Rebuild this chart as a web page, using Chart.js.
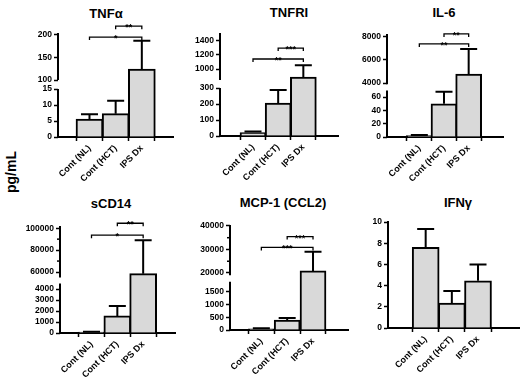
<!DOCTYPE html>
<html>
<head>
<meta charset="utf-8">
<script src="https://cdn.jsdelivr.net/npm/chart.js@4.4.0/dist/chart.umd.min.js"></script>
<style>
  html, body { margin: 0; padding: 0; background: #fff; overflow: hidden; }
  #wrap { position: relative; width: 520px; height: 378px; }
  canvas { position: absolute; }
  .t { position: absolute; font: bold 13px "Liberation Sans", Arial, sans-serif; transform: translate(-50%, -50%); white-space: nowrap; color: #000; }
  #unit { position: absolute; left: 11px; top: 172px; font: bold 14px "Liberation Sans", Arial, sans-serif; transform: translate(-50%, -50%) rotate(-90deg); }
</style>
</head>
<body>
<div id="wrap"><div id="unit">pg/mL</div></div>
<script>
const categories = ["Cont (NL)", "Cont (HCT)", "IPS Dx"];

// mean and SEM (upper error bar) per group, pg/mL
const tnfaMean = [5.6, 7.3, 124];
const tnfaSem = [1.5, 4.0, 63];
const tnfaTicks = [0, 5, 10, 15, 100, 150, 200];
const tnfaSig = [[0, 2, 195, "*"], [1, 2, 219, "**"]];

const tnfr1Mean = [22, 206, 890];
const tnfr1Sem = [6, 81, 165];
const tnfr1Ticks = [0, 100, 200, 300, 1000, 1200, 1400];
const tnfr1Sig = [[0, 2, 1140, "**"], [1, 2, 1292, "***"]];

const il6Mean = [2, 50, 4780];
const il6Sem = [1, 18, 2180];
const il6Ticks = [0, 20, 40, 60, 4000, 6000, 8000];
const il6Sig = [[0, 2, 7390, "**"], [1, 2, 8260, "**"]];

const scd14Mean = [80, 1550, 58500];
const scd14Sem = [40, 900, 30500];
const scd14Ticks = [0, 1000, 2000, 3000, 4000, 60000, 80000, 100000];
const scd14Minor = [70000, 90000];
const scd14Sig = [[0, 2, 93600, "*"], [1, 2, 104500, "**"]];

const mcp1Mean = [50, 390, 20900];
const mcp1Sem = [20, 80, 8100];
const mcp1Ticks = [0, 500, 1000, 1500, 20000, 30000, 40000];
const mcp1Minor = [25000, 35000];
const mcp1Sig = [[0, 2, 30850, "***"], [1, 2, 35500, "***"]];

const ifngMean = [7.6, 2.35, 4.45];
const ifngSem = [1.75, 1.15, 1.55];
const ifngTicks = [0, 2, 4, 6, 8, 10];

const panels = [
  { title: "TNFα", mean: tnfaMean, sem: tnfaSem, ticks: tnfaTicks, minor: [], sig: tnfaSig,
    left: 58, right: 173, top: 33, bottom: 137, xMin: -0.471, xMax: 2.459, bar: 27,
    max: 204, brk: { lo: 15, hi: 100, f0: 0.4615, f1: 0.548 }, tx: 106, ty: 13 },
  { title: "TNFRI", mean: tnfr1Mean, sem: tnfr1Sem, ticks: tnfr1Ticks, minor: [], sig: tnfr1Sig,
    left: 220, right: 338, top: 33, bottom: 136, xMin: -0.53, xMax: 2.596, bar: 26,
    max: 1500, brk: { lo: 300, hi: 850, f0: 0.466, f1: 0.544 }, tx: 289, ty: 12 },
  { title: "IL-6", mean: il6Mean, sem: il6Sem, ticks: il6Ticks, minor: [], sig: il6Sig,
    left: 387, right: 503, top: 34, bottom: 137, xMin: -0.527, xMax: 2.608, bar: 26,
    max: 8250, brk: { lo: 70, hi: 3900, f0: 0.452, f1: 0.513 }, tx: 444, ty: 12 },
  { title: "sCD14", mean: scd14Mean, sem: scd14Sem, ticks: scd14Ticks, minor: scd14Minor, sig: scd14Sig,
    left: 60, right: 175, top: 226, bottom: 333, xMin: -0.477, xMax: 2.49, bar: 27,
    max: 102000, brk: { lo: 4500, hi: 55000, f0: 0.4626, f1: 0.5187 }, tx: 111, ty: 203 },
  { title: "MCP-1 (CCL2)", mean: mcp1Mean, sem: mcp1Sem, ticks: mcp1Ticks, minor: mcp1Minor, sig: mcp1Sig,
    left: 230, right: 348, top: 225, bottom: 330, xMin: -0.452, xMax: 2.593, bar: 26,
    max: 40400, brk: { lo: 1900, hi: 19000, f0: 0.46, f1: 0.5205 }, tx: 283, ty: 202 },
  { title: "IFNγ", mean: ifngMean, sem: ifngSem, ticks: ifngTicks, minor: [], sig: [],
    left: 388, right: 520, top: 222, bottom: 328, xMin: -0.599, xMax: 2.764, bar: 27,
    max: 10, brk: null, tx: 458, ty: 202 }
];

const FONT = '"Liberation Sans", Arial, sans-serif';
const PAD_TOP = 40, Y_W = 45, X_H = 55, PAD_R = 2;

// linear scale with a gap between a low and a high segment
class BrokenScale extends Chart.LinearScale {
  getPixelForValue(v) {
    const b = this.options.brk;
    let d;
    if (v <= b.lo) d = (v - this.min) / (b.lo - this.min) * b.f0;
    else if (v >= b.hi) d = b.f1 + (v - b.hi) / (this.max - b.hi) * (1 - b.f1);
    else d = b.f0 + (v - b.lo) / (b.hi - b.lo) * (b.f1 - b.f0);
    return this.getPixelForDecimal(d);
  }
  getValueForPixel(px) {
    const b = this.options.brk;
    const d = this.getDecimalForPixel(px);
    if (d <= b.f0) return this.min + d / b.f0 * (b.lo - this.min);
    if (d >= b.f1) return b.hi + (d - b.f1) / (1 - b.f1) * (this.max - b.hi);
    return b.lo + (d - b.f0) / (b.f1 - b.f0) * (b.hi - b.lo);
  }
}
BrokenScale.id = "broken";
BrokenScale.defaults = {};
Chart.register(BrokenScale);

function makeMarks(p) {
  return {
    id: "marks",
    afterDatasetsDraw(chart) {
      const ctx = chart.ctx, ys = chart.scales.y;
      ctx.save();
      ctx.strokeStyle = "#000";
      ctx.lineWidth = 2;
      chart.getDatasetMeta(0).data.forEach((bar, i) => {
        const top = ys.getPixelForValue(p.mean[i] + p.sem[i]);
        ctx.beginPath();
        ctx.moveTo(bar.x, bar.y);
        ctx.lineTo(bar.x, top);
        ctx.moveTo(bar.x - 8.5, top);
        ctx.lineTo(bar.x + 8.5, top);
        ctx.stroke();
      });
      ctx.restore();
    },
    afterDraw(chart) {
      const ctx = chart.ctx, xs = chart.scales.x, ys = chart.scales.y;
      const ax = chart.chartArea.left;
      ctx.save();
      ctx.strokeStyle = "#000";
      if (p.brk) {
        ctx.lineWidth = 2;
        ctx.beginPath();
        ctx.moveTo(ax, ys.getPixelForValue(0) + 1);
        ctx.lineTo(ax, ys.getPixelForValue(p.brk.lo));
        ctx.moveTo(ax, ys.getPixelForValue(p.brk.hi));
        ctx.lineTo(ax, ys.getPixelForValue(p.max));
        ctx.stroke();
      }
      ctx.lineWidth = 1.5;
      p.minor.forEach(v => {
        const y = ys.getPixelForValue(v);
        ctx.beginPath();
        ctx.moveTo(ax - 3, y);
        ctx.lineTo(ax, y);
        ctx.stroke();
      });
      ctx.lineWidth = 1.3;
      ctx.fillStyle = "#000";
      ctx.font = "bold 9px " + FONT;
      ctx.textAlign = "center";
      ctx.textBaseline = "alphabetic";
      p.sig.forEach(([a, b, v, label]) => {
        const x1 = xs.getPixelForValue(a), x2 = xs.getPixelForValue(b);
        const y = ys.getPixelForValue(v);
        ctx.beginPath();
        ctx.moveTo(x1, y + 3);
        ctx.lineTo(x1, y);
        ctx.lineTo(x2, y);
        ctx.lineTo(x2, y + 3);
        ctx.stroke();
        ctx.fillText(label, (x1 + x2) / 2, y + 4);
      });
      ctx.restore();
    }
  };
}

const wrap = document.getElementById("wrap");

panels.forEach(p => {
  const t = document.createElement("div");
  t.className = "t";
  t.textContent = p.title;
  t.style.left = p.tx + "px";
  t.style.top = p.ty + "px";
  wrap.appendChild(t);

  const c = document.createElement("canvas");
  c.width = Y_W + (p.right - p.left) + PAD_R;
  c.height = PAD_TOP + (p.bottom - p.top) + X_H;
  c.style.left = (p.left - Y_W) + "px";
  c.style.top = (p.top - PAD_TOP) + "px";
  wrap.appendChild(c);

  new Chart(c, {
    type: "bar",
    data: {
      datasets: [{
        data: p.mean.map((v, i) => ({ x: i, y: v })),
        backgroundColor: "#d9d9d9",
        borderColor: "#000",
        borderWidth: 2,
        borderSkipped: "start",
        barThickness: p.bar
      }]
    },
    options: {
      responsive: false,
      animation: false,
      layout: { padding: { top: PAD_TOP, right: PAD_R, left: 0, bottom: 0 } },
      plugins: { legend: { display: false }, tooltip: { enabled: false } },
      scales: {
        x: {
          type: "linear",
          min: p.xMin,
          max: p.xMax,
          bounds: "data",
          afterBuildTicks: s => { s.ticks = categories.map((c, i) => ({ value: i })); },
          afterFit: s => { s.height = X_H; },
          border: { display: true, width: 2, color: "#000" },
          grid: { display: true, drawOnChartArea: false, tickLength: 4, tickWidth: 1.5, tickColor: "#000" },
          ticks: {
            color: "#000", font: { family: FONT, size: 9, weight: "bold" },
            minRotation: 45, maxRotation: 45, autoSkip: false, padding: 2,
            callback: v => categories[v]
          }
        },
        y: {
          type: p.brk ? "broken" : "linear",
          min: 0,
          max: p.max,
          bounds: "data",
          brk: p.brk,
          afterBuildTicks: s => { s.ticks = p.ticks.map(v => ({ value: v })); },
          afterFit: s => { s.width = Y_W; },
          border: { display: !p.brk, width: 2, color: "#000" },
          grid: { display: true, drawOnChartArea: false, tickLength: 4, tickWidth: 1.5, tickColor: "#000" },
          ticks: {
            color: "#000", font: { family: FONT, size: 8.5, weight: "bold" },
            padding: 2, autoSkip: false, callback: v => String(v)
          }
        }
      }
    },
    plugins: [makeMarks(p)]
  });
});
</script>
</body>
</html>
